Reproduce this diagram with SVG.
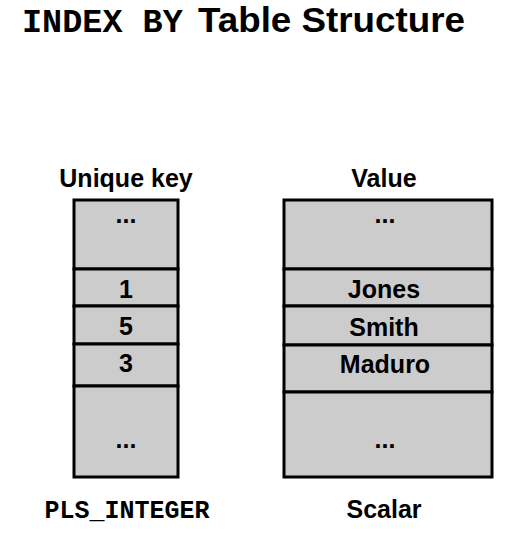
<svg xmlns="http://www.w3.org/2000/svg" width="527" height="560" viewBox="0 0 527 560">
<style>
.cell{fill:#cccccc;stroke:#000;stroke-width:3}
.s{font-family:"Liberation Sans",Arial,sans-serif;font-weight:bold;fill:#000;text-anchor:middle;font-size:25px}
.m{font-family:"Liberation Mono","Courier New",monospace;font-weight:bold;fill:#000}
</style>
<rect width="527" height="560" fill="#fff"/>
<g id="title">
<text class="m" x="22" y="32" font-size="33.5">INDEX BY</text>
<text x="198" y="32" font-family="Liberation Sans,Arial,sans-serif" font-weight="bold" font-size="35" textLength="267" lengthAdjust="spacingAndGlyphs">Table Structure</text>
</g>
<g id="key-column">
<text class="s" x="126" y="187">Unique key</text>
<rect class="cell" x="74" y="200" width="104" height="69"/>
<rect class="cell" x="74" y="269" width="104" height="37"/>
<rect class="cell" x="74" y="306" width="104" height="38"/>
<rect class="cell" x="74" y="344" width="104" height="42"/>
<rect class="cell" x="74" y="386" width="104" height="91"/>
<text class="s" x="126" y="223">...</text>
<text class="s" x="126" y="298">1</text>
<text class="s" x="126" y="335">5</text>
<text class="s" x="126" y="372">3</text>
<text class="s" x="126" y="448">...</text>
<text class="m" x="127" y="518" font-size="25" text-anchor="middle">PLS_INTEGER</text>
</g>
<g id="value-column">
<text class="s" x="384" y="187">Value</text>
<rect class="cell" x="284" y="200" width="208" height="69"/>
<rect class="cell" x="284" y="269" width="208" height="37"/>
<rect class="cell" x="284" y="306" width="208" height="39"/>
<rect class="cell" x="284" y="345" width="208" height="47"/>
<rect class="cell" x="284" y="392" width="208" height="85"/>
<text class="s" x="385" y="223">...</text>
<text class="s" x="384" y="298">Jones</text>
<text class="s" x="384" y="336">Smith</text>
<text class="s" x="385" y="373">Maduro</text>
<text class="s" x="385" y="448">...</text>
<text class="s" x="384" y="518">Scalar</text>
</g>
<g id="connectors"/>
</svg>
